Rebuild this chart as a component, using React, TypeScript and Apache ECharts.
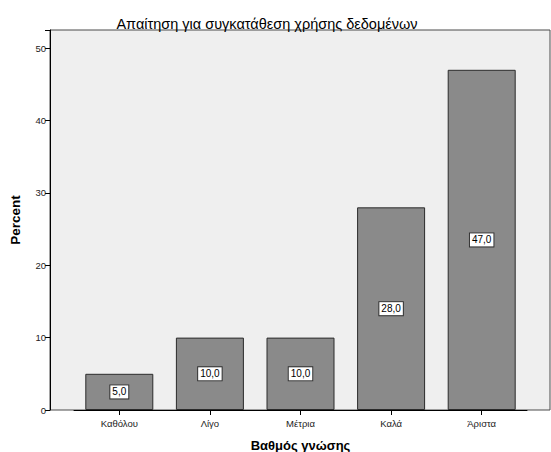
import React, { useEffect, useRef } from "react";
import * as echarts from "echarts";

const categories = ["Καθόλου", "Λίγο", "Μέτρια", "Καλά", "Άριστα"];
const percentValues = [5.0, 10.0, 10.0, 28.0, 47.0];
const yTicks = [0, 10, 20, 30, 40, 50];

const titleText = "Απαίτηση για συγκατάθεση χρήσης δεδομένων";
const xAxisTitle = "Βαθμός γνώσης";
const yAxisTitle = "Percent";

const FONT = "Liberation Sans, Arial, sans-serif";

export default function App() {
  const ref = useRef<HTMLDivElement>(null);
  useEffect(() => {
    if (!ref.current) return;
    const chart = echarts.init(ref.current, null, { renderer: "svg" });
    chart.setOption({
      animation: false,
      backgroundColor: "#ffffff",
      textStyle: { fontFamily: FONT },
      title: {
        text: titleText,
        left: 262,
        top: 11,
        textAlign: "center",
        textStyle: { fontFamily: FONT, fontSize: 14.5, fontWeight: "normal", color: "#000" },
      },
      graphic: [
        {
          type: "rect",
          z: -10,
          shape: { x: 50, y: 30, width: 500, height: 380 },
          style: { fill: "#efefef", stroke: "#4a4a4a", lineWidth: 1 },
          silent: true,
        },
      ],
      grid: { left: 74, right: 24, top: 30, bottom: 42, containLabel: false, outerBoundsMode: "none" },
      xAxis: {
        type: "category",
        data: categories,
        name: xAxisTitle,
        nameLocation: "middle",
        nameGap: 29,
        nameTextStyle: { fontFamily: FONT, fontSize: 13, fontWeight: "bold", color: "#000" },
        axisLine: { show: true, lineStyle: { color: "#000" } },
        axisTick: { show: true, alignWithLabel: true, length: 5, inside: false, lineStyle: { color: "#000" } },
        axisLabel: { fontFamily: FONT, fontSize: 9.5, color: "#222", margin: 8 },
        splitLine: { show: false },
      },
      yAxis: {
        type: "value",
        min: 0,
        max: 52.5,
        interval: 10,
        offset: 24,
        name: yAxisTitle,
        nameLocation: "middle",
        nameGap: 28,
        nameRotate: 90,
        nameTextStyle: { fontFamily: FONT, fontSize: 13.5, fontWeight: "bold", color: "#000" },
        axisLine: { show: true, lineStyle: { color: "#000" } },
        axisTick: { show: true, length: 5, lineStyle: { color: "#000" } },
        axisLabel: {
          fontFamily: FONT,
          fontSize: 9.5,
          color: "#222",
          margin: 4,
          formatter: (v: number) => (yTicks.includes(v) ? String(v) : ""),
        },
        splitLine: { show: false },
      },
      series: [
        {
          type: "bar",
          data: percentValues,
          barWidth: 68,
          itemStyle: { color: "#8a8a8a", borderColor: "#2b2b2b", borderWidth: 1 },
          label: {
            show: true,
            position: "inside",
            formatter: (p: any) => p.value.toFixed(1).replace(".", ","),
            fontFamily: FONT,
            fontSize: 10,
            color: "#000",
            backgroundColor: "#ffffff",
            borderColor: "#333",
            borderWidth: 1,
            padding: [2, 2, 1, 2],
          },
        },
      ],
    });
    return () => chart.dispose();
  }, []);
  return <div ref={ref} style={{ width: 551, height: 452, position: "absolute", left: 0, top: 0 }} />;
}
